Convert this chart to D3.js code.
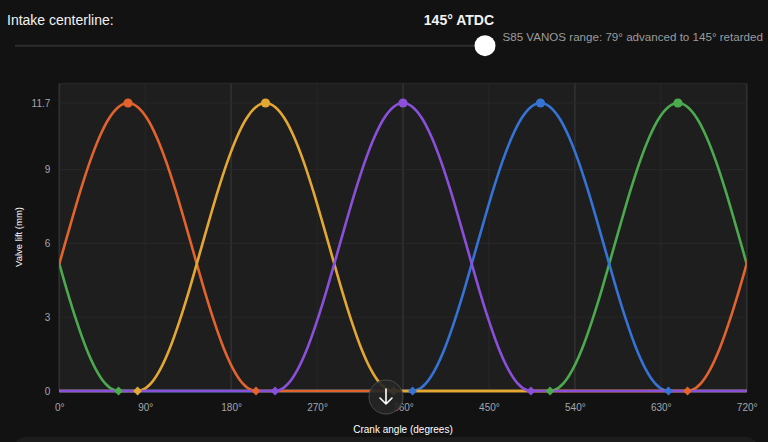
<!DOCTYPE html>
<html>
<head>
<meta charset="utf-8">
<script src="https://cdn.jsdelivr.net/npm/d3@7"></script>
<style>
  html, body { margin: 0; padding: 0; background: #121212; overflow: hidden; }
  svg { display: block; font-family: "Liberation Sans", Arial, sans-serif; }
</style>
</head>
<body>
<svg id="viz_area" width="768" height="442"></svg>
<script>
// one intake lobe per cylinder of the bank
var cylNames = ['cyl A', 'cyl B', 'cyl C', 'cyl D', 'cyl E']
var cylColors = ['#e2632c', '#e4a832', '#8a50da', '#3573d6', '#4caa4e']
var centerlines = [72, 216, 360, 504, 648]   // peak lift crank angle
var drawOrder = [4, 3, 0, 1, 2]               // last one ends up on top

// lift profile around the centerline (deg offset -> mm)
var profileOffset = [-134, -130, -120, -110, -100, -90, -80, -70, -60, -50, -40, -30, -20, -10, 0,
  10, 20, 30, 40, 50, 60, 70, 80, 90, 100, 110, 120, 130, 134]
var profileLift = [0, 0.03, 0.31, 0.90, 1.76, 2.85, 4.09, 5.44, 6.80, 8.12, 9.31, 10.31, 11.07, 11.54, 11.7,
  11.54, 11.07, 10.31, 9.31, 8.12, 6.80, 5.44, 4.09, 2.85, 1.76, 0.90, 0.31, 0.03, 0]
var maxLift = 11.7

var xTicks = [0, 90, 180, 270, 360, 450, 540, 630, 720]
var yTicks = [0, 3, 6, 9, 11.7]

var svg = d3.select('#viz_area')

// ---- header / slider ----
svg.append('text').attr('x', 7).attr('y', 25).attr('fill', '#f2f2f2')
  .style('font-size', '14px').text('Intake centerline:')
svg.append('text').attr('x', 494).attr('y', 24.5).attr('text-anchor', 'end').attr('fill', '#f2f2f2')
  .style('font-size', '14px').style('font-weight', 'bold').text('145° ATDC')
svg.append('line').attr('x1', 15).attr('x2', 485).attr('y1', 45.7).attr('y2', 45.7)
  .attr('stroke', '#2c2c2c').attr('stroke-width', 2)
svg.append('circle').attr('cx', 485).attr('cy', 45.7).attr('r', 10.5).attr('fill', '#ffffff')
svg.append('text').attr('x', 502.5).attr('y', 41).attr('fill', '#9c9c9c')
  .style('font-size', '11.6px').text('S85 VANOS range: 79° advanced to 145° retarded')

// ---- chart ----
var plotL = 59.3, plotR = 746.7, plotT = 83.3, plotB = 391
var x = d3.scaleLinear().domain([0, 720]).range([plotL, plotR])
var y = d3.scaleLinear().domain([0, 12.5]).range([plotB, plotT])

svg.append('rect').attr('x', plotL).attr('y', plotT).attr('width', plotR - plotL).attr('height', plotB - plotT)
  .attr('rx', 3).attr('fill', '#1e1e1e').attr('stroke', '#2a2a2a')

var grid = svg.append('g')
grid.selectAll('.vgrid').data(xTicks).enter().append('line')
  .attr('x1', d => x(d)).attr('x2', d => x(d)).attr('y1', plotT).attr('y2', plotB)
  .attr('stroke', d => d % 180 === 0 ? '#303030' : '#282828')
  .attr('stroke-width', d => d % 180 === 0 ? 1.6 : 1)
grid.selectAll('.hgrid').data(yTicks.slice(1)).enter().append('line')
  .attr('x1', plotL).attr('x2', plotR).attr('y1', d => y(d)).attr('y2', d => y(d))
  .attr('stroke', '#282828')

svg.append('g').attr('transform', 'translate(0,' + plotB + ')')
  .call(d3.axisBottom(x).tickValues(xTicks).tickFormat(d => d + '°').tickSize(0).tickPadding(13))
svg.append('g').attr('transform', 'translate(' + plotL + ',0)')
  .call(d3.axisLeft(y).tickValues(yTicks).tickFormat(d => d).tickSize(0).tickPadding(9))
svg.selectAll('.domain').remove()
svg.selectAll('.tick text').attr('fill', '#a2a6ad').style('font-size', '10px')
  .style('font-family', '"Liberation Sans", Arial, sans-serif')

svg.append('text').attr('transform', 'translate(22,237) rotate(-90)').attr('text-anchor', 'middle')
  .attr('fill', '#ffffff').style('font-size', '9.5px').text('Valve lift (mm)')
svg.append('text').attr('x', 403).attr('y', 433).attr('text-anchor', 'middle')
  .attr('fill', '#ffffff').style('font-size', '10px').text('Crank angle (degrees)')

svg.append('clipPath').attr('id', 'plotclip').append('rect')
  .attr('x', plotL).attr('y', plotT - 10).attr('width', plotR - plotL).attr('height', plotB - plotT + 20)

// lobe repeated one cycle either side so the wrap round 0/720 draws itself
function lobePoints(c) {
  var pts = []
  ;[-720, 0, 720].forEach(function (shift) {
    profileOffset.forEach(function (o, i) {
      pts.push([c + shift + o, profileLift[i]])
    })
  })
  return pts
}

var line = d3.line().x(d => x(d[0])).y(d => y(d[1])).curve(d3.curveMonotoneX)
var lines = svg.append('g').attr('clip-path', 'url(#plotclip)')
drawOrder.forEach(function (i) {
  lines.append('path').datum(lobePoints(centerlines[i]))
    .attr('class', cylNames[i].replace(' ', '-'))
    .attr('d', line).attr('fill', 'none')
    .attr('stroke', cylColors[i]).attr('stroke-width', 2.6)
})

var wrap = v => ((v % 720) + 720) % 720
// square turned 45deg, like the chart lib's rectRot point
var diamond = d3.symbol().type(d3.symbolSquare).size(40)
var marks = svg.append('g')
drawOrder.forEach(function (i) {
  var c = centerlines[i]
  marks.append('circle').attr('cx', x(c)).attr('cy', y(maxLift)).attr('r', 4.6).attr('fill', cylColors[i])
  ;[c + profileOffset[0], c + profileOffset[profileOffset.length - 1]].forEach(function (a) {
    marks.append('path').attr('d', diamond)
      .attr('transform', 'translate(' + x(wrap(a)) + ',' + y(0) + ') rotate(45)')
      .attr('fill', cylColors[i])
  })
})

// scroll hint button + next card edge
svg.append('rect').attr('x', 15).attr('y', 437).attr('width', 742).attr('height', 30)
  .attr('rx', 10).attr('fill', '#1c1c1c')
var btn = svg.append('g').attr('transform', 'translate(386,397)')
btn.append('circle').attr('r', 17).attr('fill', 'rgba(38,38,38,0.9)').attr('stroke', '#4a4a4a')
btn.append('path').attr('d', 'M0,-8 L0,7 M-6,1 L0,7 L6,1')
  .attr('fill', 'none').attr('stroke', '#ffffff').attr('stroke-width', 1.6)
  .attr('stroke-linecap', 'round').attr('stroke-linejoin', 'round')
</script>
</body>
</html>
